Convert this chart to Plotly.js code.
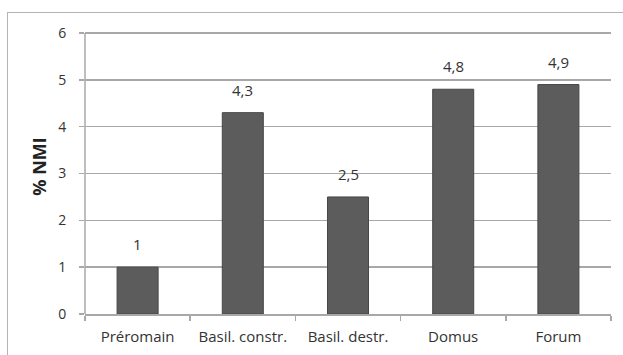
<!DOCTYPE html>
<html>
<head>
<meta charset="utf-8">
<script src="https://cdn.plot.ly/plotly-3.0.1.min.js"></script>
<style>
html,body{margin:0;padding:0;background:#fff;overflow:hidden;}
#frame{position:absolute;left:7px;top:12px;width:700px;height:400px;border:1.5px solid #b4b4b4;}
#chart{position:absolute;left:0;top:0;width:623px;height:355px;}
</style>
</head>
<body>
<div id="frame"></div>
<div id="chart"></div>
<script>
const categories = ["Préromain", "Basil. constr.", "Basil. destr.", "Domus", "Forum"];
const values = [1, 4.3, 2.5, 4.8, 4.9];
const labels = ["1", "4,3", "2,5", "4,8", "4,9"];
const yTicks = [0, 1, 2, 3, 4, 5, 6];

const FONT = "Open Sans, sans-serif";
const GRID = "#a8a8a8";
const yMax = yTicks[yTicks.length - 1];

const trace = {
  type: "bar",
  x: categories,
  y: values,
  marker: {color: "#5c5c5c", line: {color: "#474747", width: 1}},
  hoverinfo: "none"
};

const annotations = categories.map((c, i) => ({
  x: c, y: values[i], text: labels[i], showarrow: false,
  yanchor: "bottom", yshift: 11,
  font: {family: FONT, size: 15, color: "#333"}
}));

const layout = {
  width: 623, height: 355,
  margin: {l: 85, r: 12, t: 19, b: 41},
  paper_bgcolor: "rgba(0,0,0,0)",
  plot_bgcolor: "rgba(0,0,0,0)",
  bargap: 0.61,
  showlegend: false,
  annotations: annotations,
  shapes: [
    {type: "line", xref: "paper", yref: "y", x0: 0, x1: 0, y0: 0, y1: yMax,
     line: {color: GRID, width: 1.5}, layer: "above"},
    {type: "line", xref: "paper", yref: "y", x0: 0, x1: 1, y0: yMax, y1: yMax,
     line: {color: "#9c9c9c", width: 2}, layer: "below"}
  ],
  xaxis: {
    showline: true, linecolor: GRID, linewidth: 1.5,
    ticks: "outside", tickson: "boundaries", ticklen: 5, tickcolor: GRID, tickwidth: 1.5,
    showgrid: false, ticklabelstandoff: 8,
    tickfont: {family: FONT, size: 15, color: "#333"}
  },
  yaxis: {
    range: [0, yMax + 0.3], tickvals: yTicks, ticktext: yTicks.map(String),
    showline: false,
    ticks: "outside", ticklen: 5, tickcolor: GRID, tickwidth: 1.5,
    showgrid: true, gridcolor: GRID, gridwidth: 1.5,
    zeroline: false, ticklabelstandoff: 10,
    tickfont: {family: FONT, size: 14, color: "#333"},
    title: {text: "<b>% NMI</b>", font: {family: FONT, size: 18, color: "#222"}, standoff: 6}
  }
};

Plotly.newPlot("chart", [trace], layout, {displayModeBar: false, staticPlot: true});
</script>
</body>
</html>
